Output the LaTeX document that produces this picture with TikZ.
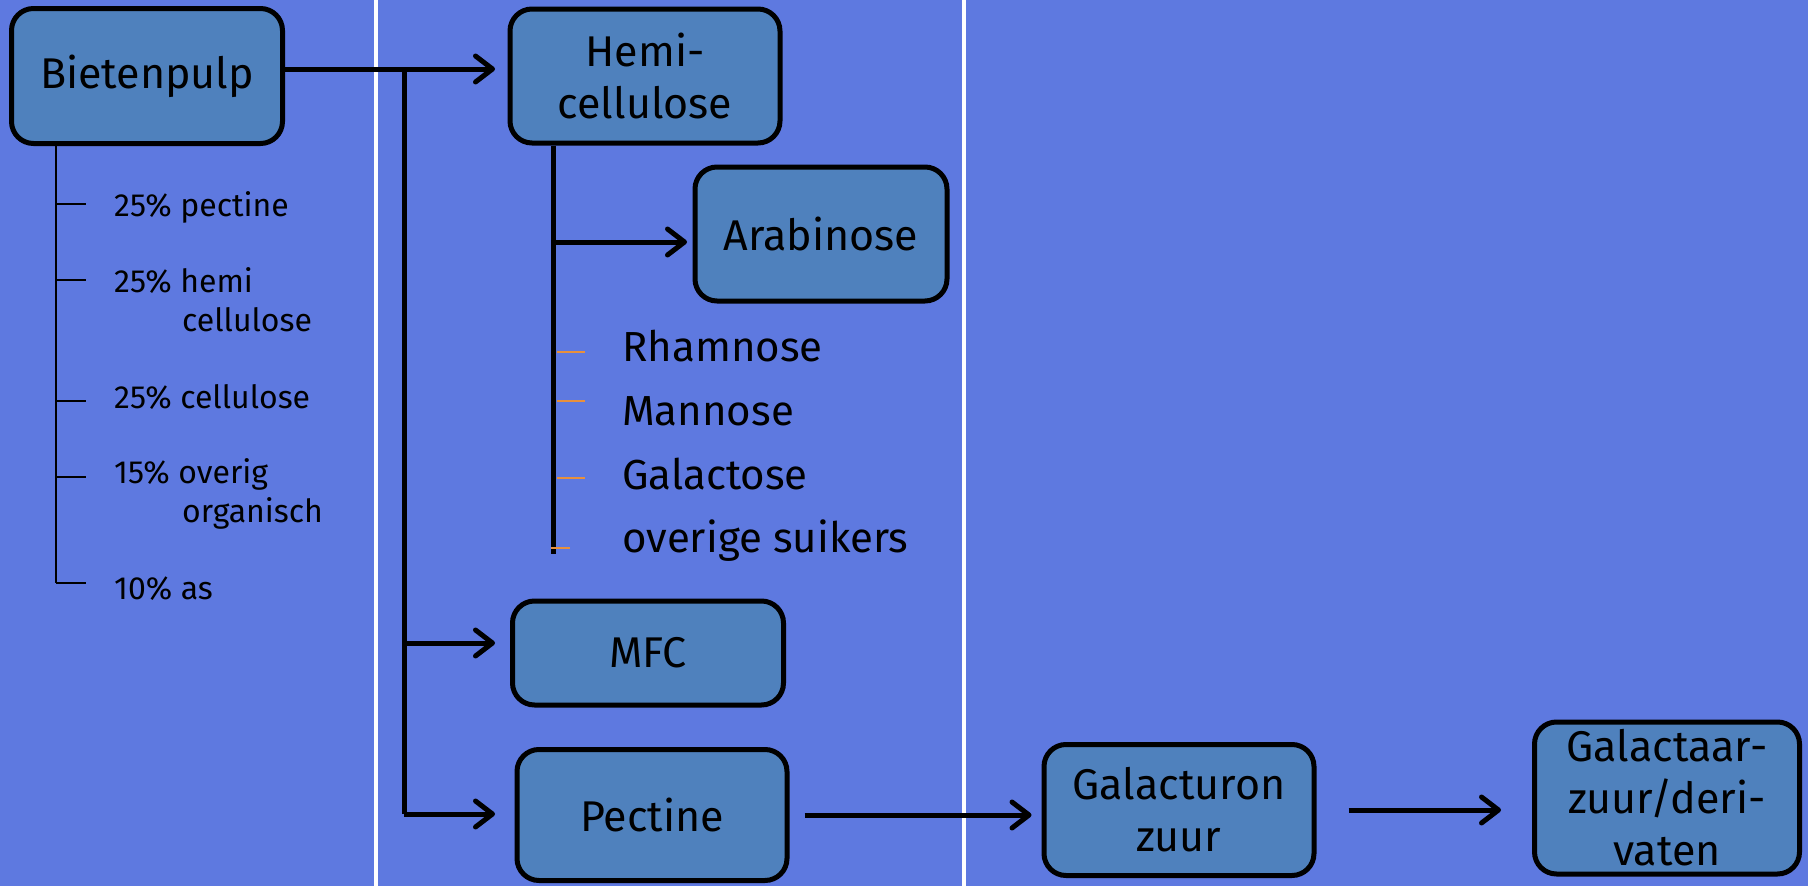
\documentclass[tikz,border=0pt]{standalone}
\usepackage{fontspec}
\setmainfont{Fira Sans}
\usetikzlibrary{positioning,arrows.meta,calc}
\definecolor{slidebg}{RGB}{94,121,224}
\definecolor{boxfill}{RGB}{79,129,189}
\definecolor{tickorange}{RGB}{232,144,60}

\begin{document}
\begin{tikzpicture}[x=1pt,y=-1pt,
    product/.style = {draw=black, line width=5pt, fill=boxfill, rounded corners=22pt,
      align=center, inner sep=0pt, font=\fontsize{43}{52}\selectfont},
    branch/.style = {black, line width=5pt},
    flow/.style = {branch, -{Straight Barb[length=17pt,width=26pt,round]}},
    listline/.style = {black, line width=2.5pt},
    sugartick/.style = {tickorange, line width=2pt},
    part/.style = {anchor=base west, align=left, inner sep=0pt, font=\fontsize{32}{39}\selectfont},
    sugar/.style = {anchor=base west, inner sep=0pt, font=\fontsize{42}{50}\selectfont}]
    \useasboundingbox (0,0) rectangle (1808,886);
    \fill [slidebg] (0,0) rectangle (1808,886);
    \draw [white, line width=3.5pt] (376,0) -- (376,886) (964,0) -- (964,886);

    % boxes
    \node [product, minimum width=271pt, minimum height=135pt] (bieten) at (147,76) {Bietenpulp};
    \node [product, minimum width=270pt, minimum height=134pt] (hemi) at (645,76) {Hemi-\\cellulose};
    \node [product, minimum width=252pt, minimum height=134pt] (arab) at (821,234) {Arabinose};
    \node [product, minimum width=271pt, minimum height=104pt] (mfc) at (648,653) {MFC};
    \node [product, minimum width=270pt, minimum height=131pt] (pect) at (652,815) {Pectine};
    \node [product, minimum width=270pt, minimum height=131pt] (galuron) at (1179,810) {Galacturon\\zuur};
    \node [product, minimum width=265pt, minimum height=152pt] (galtaar) at (1667,798) {Galactaar-\\zuur/deri-\\vaten};

    % split of the pulp
    \coordinate (split) at (404,69);
    \coordinate (hemiin) at (495,69);
    \coordinate (mfcin) at (495,643);
    \coordinate (pectin) at (495,814);
    \draw [flow] (bieten.east |- split) -- (hemiin);
    \draw [branch] (split) -- (split |- pectin);
    \draw [flow] (split |- mfcin) -- (mfcin);
    \draw [flow] (split |- pectin) -- (pectin);
    \draw [flow, shorten <=15pt, shorten >=10pt] (pect.east) -- (galuron.west |- pect.east);
    \draw [flow, shorten <=32pt, shorten >=31pt] (galuron.east) -- (galtaar.west |- galuron.east);

    % hemicellulose sugars
    \coordinate (stem) at (553,554);
    \coordinate (arabin) at (687,242);
    \draw [branch] (stem |- hemi.south) -- (stem);
    \draw [flow] (stem |- arabin) -- (arabin);
    \foreach \y in {352,401,478} \draw [sugartick] (557,\y) -- (585,\y);
    \draw [sugartick] (551,548) -- (570,548);
    \node [sugar] (rham) at (622,361) {Rhamnose};
    \node [sugar] (mann) at (622,425) {Mannose};
    \node [sugar] (galto) at (622,489) {Galactose};
    \node [sugar] (overig) at (622,552) {overige suikers};

    % composition
    \coordinate (listend) at (56,583);
    \draw [listline] (listend |- bieten.south) -- (listend);
    \foreach \y in {204,280,401,477,583} \draw [listline] (56,\y) -- (86,\y);
    \node [part] (pct1) at (114,216) {25\% pectine};
    \node [part] (pct2) at (114,331) {25\% hemi\\\hspace*{68pt}cellulose};
    \node [part] (pct3) at (114,408) {25\% cellulose};
    \node [part] (pct4) at (114,522) {15\% overig\\\hspace*{68pt}organisch};
    \node [part] (pct5) at (114,599) {10\% as};
\end{tikzpicture}
\end{document}
